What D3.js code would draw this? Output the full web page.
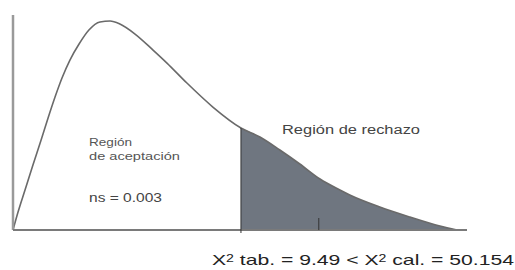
<!DOCTYPE html>
<html lang="es">
<head>
<meta charset="UTF-8">
<title>Chi cuadrado</title>
<script src="https://cdnjs.cloudflare.com/ajax/libs/d3/7.8.5/d3.min.js"></script>
<style>
body{
  margin: 0;
  background: #fff;
}
text{
  font-family: "Liberation Sans", Arial, sans-serif;
}
</style>
</head>
<body>
<div id="chart"></div>
<script>
// curve (x in chi2 units, y as density)
var curveX = [0, 0.21, 0.50, 0.83, 1.17, 1.46, 1.75, 2.04, 2.37, 2.75, 3.16, 3.62, 4.04, 4.45, 5.08, 5.83, 6.41, 7.24, 8.32, 9.49, 10.28, 11.11, 11.94, 12.78, 13.61, 14.02, 15.27, 16.52, 17.77, 18.48];
var curveY = [0, 0.0167, 0.0372, 0.0605, 0.0837, 0.1042, 0.1237, 0.1414, 0.1581, 0.173, 0.186, 0.1935, 0.1944, 0.1916, 0.1823, 0.1674, 0.1553, 0.1367, 0.1144, 0.0949, 0.0865, 0.0744, 0.0614, 0.0474, 0.0372, 0.0326, 0.0214, 0.0121, 0.0037, 0];
var critical = 9.49;
var tickValues = [12.73];
var labelAccept = ['Región', 'de aceptación'];
var labelReject = 'Región de rechazo';
var labelNs = 'ns = 0.003';

var width = 515, height = 270;

var svg = d3.select('#chart').append('svg')
  .attr('width', width)
  .attr('height', height);

var x = d3.scaleLinear().domain([0, 18.9]).range([13, 467]);
var y = d3.scaleLinear().domain([0, 0.2]).range([230, 15]);

var pts = curveX.map(function(d, i){ return [d, curveY[i]]; });

// shaded rejection region
var tail = pts.filter(function(d){ return d[0] >= critical; });
var area = d3.area()
  .x(function(d){ return x(d[0]); })
  .y0(y(0))
  .y1(function(d){ return y(d[1]); })
  .curve(d3.curveMonotoneX);

svg.append('path')
  .datum(tail)
  .attr('d', area)
  .attr('fill', '#6f7680');

// curve
var line = d3.line()
  .x(function(d){ return x(d[0]); })
  .y(function(d){ return y(d[1]); })
  .curve(d3.curveMonotoneX);

svg.append('path')
  .datum(pts)
  .attr('d', line)
  .attr('fill', 'none')
  .attr('stroke', '#6a6a6a')
  .attr('stroke-width', 1.6);

// axes
svg.append('line')
  .attr('x1', x(0)).attr('x2', x(0))
  .attr('y1', y(0.2)).attr('y2', y(0))
  .attr('stroke', '#9a9a9a')
  .attr('stroke-width', 2.5);

svg.append('line')
  .attr('x1', x(0)).attr('x2', x(18.9))
  .attr('y1', y(0)).attr('y2', y(0))
  .attr('stroke', '#7a7a7a')
  .attr('stroke-width', 2);

// critical value line
var yc = curveY[curveX.indexOf(critical)];
svg.append('line')
  .attr('x1', x(critical)).attr('x2', x(critical))
  .attr('y1', y(yc)).attr('y2', y(0) + 3)
  .attr('stroke', '#333')
  .attr('stroke-width', 1);

svg.selectAll('.tick-mark')
  .data(tickValues)
  .enter()
  .append('line')
  .attr('class', 'tick-mark')
  .attr('x1', function(d){ return x(d); })
  .attr('x2', function(d){ return x(d); })
  .attr('y1', y(0) - 12)
  .attr('y2', y(0))
  .attr('stroke', '#333')
  .attr('stroke-width', 1);

// labels
svg.append('text')
  .attr('x', 89).attr('y', 146)
  .attr('font-size', '10px')
  .attr('fill', '#555')
  .attr('textLength', 43)
  .attr('lengthAdjust', 'spacingAndGlyphs')
  .text(labelAccept[0]);

svg.append('text')
  .attr('x', 89).attr('y', 160)
  .attr('font-size', '10px')
  .attr('fill', '#555')
  .attr('textLength', 91)
  .attr('lengthAdjust', 'spacingAndGlyphs')
  .text(labelAccept[1]);

svg.append('text')
  .attr('x', 89).attr('y', 202)
  .attr('font-size', '12px')
  .attr('fill', '#444')
  .attr('textLength', 73)
  .attr('lengthAdjust', 'spacingAndGlyphs')
  .text(labelNs);

svg.append('text')
  .attr('x', 282).attr('y', 134)
  .attr('font-size', '12px')
  .attr('fill', '#444')
  .attr('textLength', 138)
  .attr('lengthAdjust', 'spacingAndGlyphs')
  .text(labelReject);

// bottom formula
var f = svg.append('text')
  .attr('x', 212).attr('y', 265)
  .attr('font-size', '15px')
  .attr('fill', '#222')
  .attr('textLength', 302)
  .attr('lengthAdjust', 'spacingAndGlyphs');
f.append('tspan').text('X');
f.append('tspan').attr('font-size', '10px').attr('dy', -3).text('2');
f.append('tspan').attr('dy', 3).text(' tab. = ' + critical.toFixed(2) + ' < X');
f.append('tspan').attr('font-size', '10px').attr('dy', -3).text('2');
f.append('tspan').attr('dy', 3).text(' cal. = 50.154');
</script>
</body>
</html>
